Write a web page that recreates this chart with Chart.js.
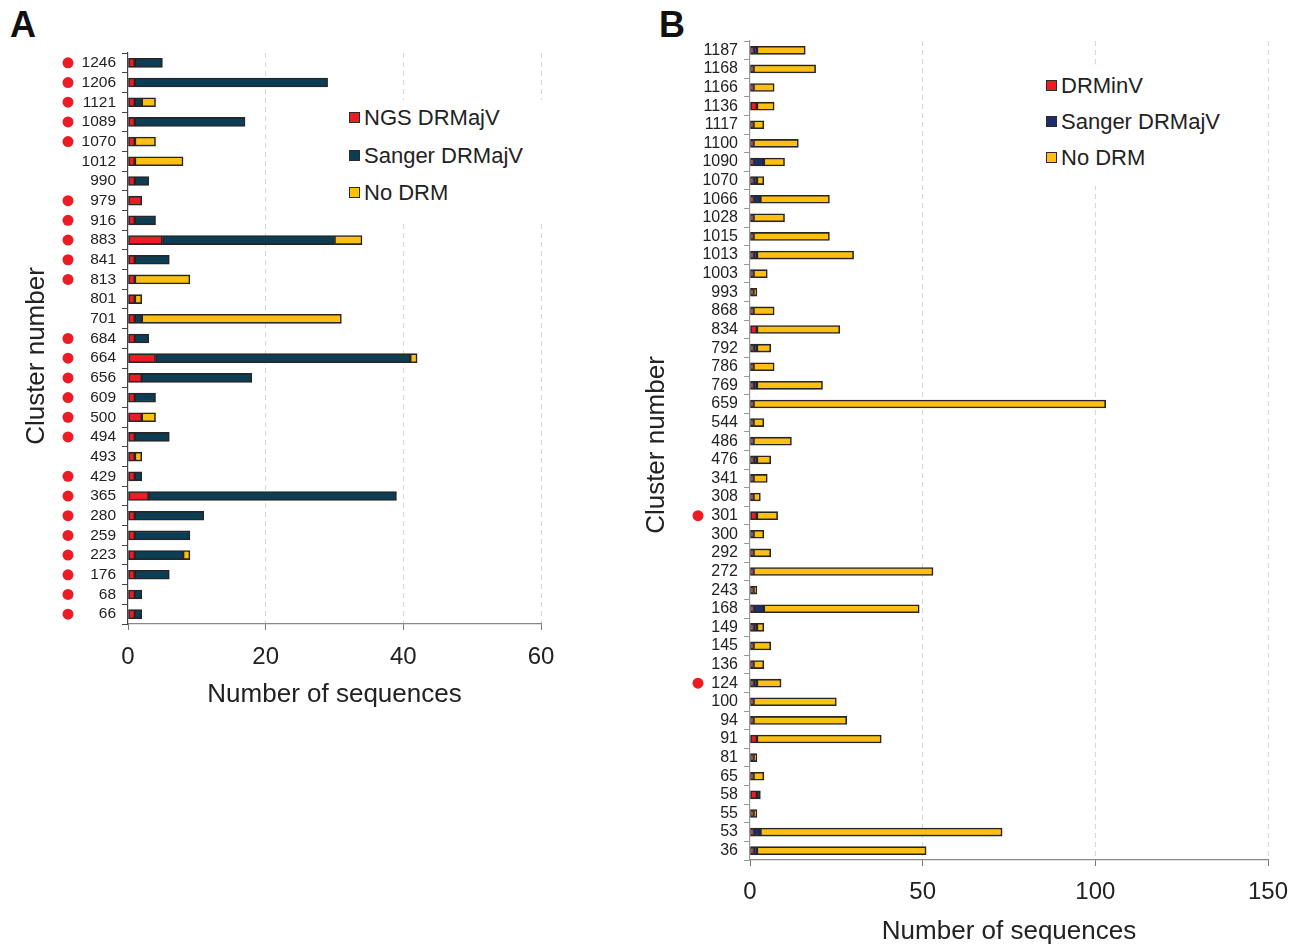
<!DOCTYPE html>
<html>
<head>
<meta charset="utf-8">
<script src="https://cdn.jsdelivr.net/npm/chart.js@4"></script>
<style>
  body { margin: 0; background: #fff; font-family: "Liberation Sans", Arial, sans-serif; overflow: hidden; }
  #wrap { position: relative; width: 1294px; height: 945px; overflow: hidden; }
  canvas { position: absolute; top: 0; }
  .panel { position: absolute; font-weight: bold; font-size: 36px; color: #111; }
  .ytitle { position: absolute; width: 300px; margin-left: -150px; text-align: center; font-size: 26px; color: #222;
            line-height: 30px; margin-top: -15px; transform: rotate(-90deg); }
  .legend { position: absolute; background: #fff; padding: 5px 8px; }
  .legend div { font-size: 22px; color: #222; line-height: 26px; white-space: nowrap; }
  .legend span { display: inline-block; width: 9px; height: 9px; border: 1.5px solid #2b2b2b; margin-right: 4px; vertical-align: 2px; }
</style>
</head>
<body>
<div id="wrap">
  <div class="panel" style="left:10px;top:4px">A</div>
  <div class="panel" style="left:659px;top:4px">B</div>
  <canvas id="chartA" width="570" height="720" style="left:0"></canvas>
  <canvas id="chartB" width="674" height="945" style="left:620px"></canvas>
  <div class="ytitle" style="left:35px;top:356px">Cluster number</div>
  <div class="ytitle" style="left:655px;top:445px">Cluster number</div>
  <div class="legend" id="legendA" style="left:341px;top:100px;width:192px"></div>
  <div class="legend" id="legendB" style="left:1038px;top:68px;width:195px"></div>
</div>
<script>
// panel A
const clustersA = ['1246','1206','1121','1089','1070','1012','990','979','916','883','841','813','801','701','684',
  '664','656','609','500','494','493','429','365','280','259','223','176','68','66']
const ngsA    = [1,1,1,1,1,1,1,2,1,5,1,1,1,1,1,4,2,1,2,1,1,1,3,1,1,1,1,1,1]
const sangerA = [4,28,1,16,0,0,2,0,3,25,5,0,0,1,2,37,16,3,0,5,0,1,36,10,8,7,5,1,1]
const noDrmA  = [0,0,2,0,3,7,0,0,0,4,0,8,1,29,0,1,0,0,2,0,1,0,0,0,0,1,0,0,0]
const markedA = ['1246','1206','1121','1089','1070','979','916','883','841','813','684','664','656','609','500',
  '494','429','365','280','259','223','176','68','66']
const ticksA = [0, 20, 40, 60]

// panel B
const clustersB = ['1187','1168','1166','1136','1117','1100','1090','1070','1066','1028','1015','1013','1003','993','868',
  '834','792','786','769','659','544','486','476','341','308','301','300','292','272','243',
  '168','149','145','136','124','100','94','91','81','65','58','55','53','36']
const drminvB = [1,1,1,2,1,1,1,1,1,1,1,1,1,1,1, 2,1,1,1,1,1,1,1,1,1, 2,1,1,1,1, 1,1,1,1,1, 1,1,2,1,1, 2,1,1,1]
const sangerB = [1,0,0,0,0,0,3,1,2,0,0,1,0,0,0, 0,1,0,1,0,0,0,1,0,0, 0,0,0,0,0, 3,1,0,0,1, 0,0,0,0,0, 1,0,2,1]
const noDrmB  = [14,18,6,5,3,13,6,2,20,9,22,28,4,1,6, 24,4,6,19,102,3,11,4,4,2, 6,3,5,52,1, 45,2,5,3,7, 24,27,36,1,3, 0,1,70,49]
const markedB = ['301','124']
const ticksB = [0, 50, 100, 150]

const RED = '#ed1c24', TEAL = '#0b3d55', NAVY = '#1e2d6b', YELLOW = '#fdbf12', EDGE = '#262626'

const dotPlugin = {
  id: 'clusterDots',
  afterDraw(chart, args, opts) {
    const y = chart.scales.y
    const ctx = chart.ctx
    ctx.save()
    ctx.fillStyle = RED
    opts.marked.forEach(lab => {
      const i = chart.data.labels.indexOf(lab)
      ctx.beginPath()
      ctx.arc(opts.x, y.getPixelForValue(i), 5.5, 0, Math.PI * 2)
      ctx.fill()
    })
    ctx.restore()
  }
}

function series(label, values, color, thick) {
  return {
    label: label,
    data: values.map(v => v === 0 ? null : v),
    backgroundColor: color,
    borderColor: EDGE,
    borderWidth: 1.6,
    borderSkipped: false,
    barThickness: thick
  }
}

function makeChart(id, labels, datasets, p) {
  return new Chart(document.getElementById(id), {
    type: 'bar',
    data: { labels: labels, datasets: datasets },
    plugins: [dotPlugin],
    options: {
      responsive: false,
      animation: false,
      indexAxis: 'y',
      layout: { padding: { top: p.top, right: p.right, left: 0, bottom: 0 } },
      plugins: {
        legend: { display: false },
        tooltip: { enabled: false },
        clusterDots: { marked: p.marked, x: p.dotX }
      },
      scales: {
        x: {
          stacked: true,
          min: 0,
          max: p.ticks[p.ticks.length - 1],
          afterBuildTicks: s => { s.ticks = p.ticks.map(v => ({ value: v })) },
          afterFit: s => { s.height = p.xHeight; s.paddingRight = 0; s.paddingLeft = 0 },
          ticks: { font: { family: 'Liberation Sans', size: 24 }, color: '#222', padding: p.xPad },
          grid: {
            color: c => c.tick && c.tick.value === 0 ? 'rgba(0,0,0,0)' : '#d6d6d6',
            tickColor: '#777',
            tickLength: 6,
            tickBorderDash: []
          },
          border: { color: '#888', width: 1.2, dash: [5, 4] },
          title: {
            display: true,
            text: 'Number of sequences',
            font: { family: 'Liberation Sans', size: 26 },
            color: '#222',
            padding: { top: p.xTitlePad, bottom: p.xTitlePad }
          }
        },
        y: {
          stacked: true,
          afterFit: s => { s.width = p.yWidth },
          ticks: { font: { family: 'Liberation Sans', size: p.yFont }, color: '#222', padding: 6, autoSkip: false },
          grid: { offset: true, drawOnChartArea: false, tickLength: 6, tickColor: p.axisColor, tickBorderDash: [] },
          border: { color: p.axisColor, width: 1.2 }
        }
      }
    }
  })
}

const chartA = makeChart('chartA', clustersA, [
  series('NGS DRMajV', ngsA, RED, 9),
  series('Sanger DRMajV', sangerA, TEAL, 9),
  series('No DRM', noDrmA, YELLOW, 9)
], { top: 53, right: 29, xHeight: 96, xPad: 13, xTitlePad: 9.5, yWidth: 128, yFont: 15.5, ticks: ticksA,
     marked: markedA, dotX: 68, axisColor: '#444' })

const chartB = makeChart('chartB', clustersB, [
  series('DRMinV', drminvB, RED, 8),
  series('Sanger DRMajV', sangerB, NAVY, 8),
  series('No DRM', noDrmB, YELLOW, 8)
], { top: 41, right: 26, xHeight: 85, xPad: 12, xTitlePad: -2, yWidth: 130, yFont: 16, ticks: ticksB,
     marked: markedB, dotX: 78, axisColor: '#999' })

function fillLegend(id, chart, gap) {
  const box = document.getElementById(id)
  chart.data.datasets.forEach(ds => {
    const row = document.createElement('div')
    row.style.height = gap + 'px'
    const sw = document.createElement('span')
    sw.style.background = ds.backgroundColor
    row.appendChild(sw)
    row.appendChild(document.createTextNode(ds.label))
    box.appendChild(row)
  })
}
fillLegend('legendA', chartA, 37.5)
fillLegend('legendB', chartB, 36)
</script>
</body>
</html>
